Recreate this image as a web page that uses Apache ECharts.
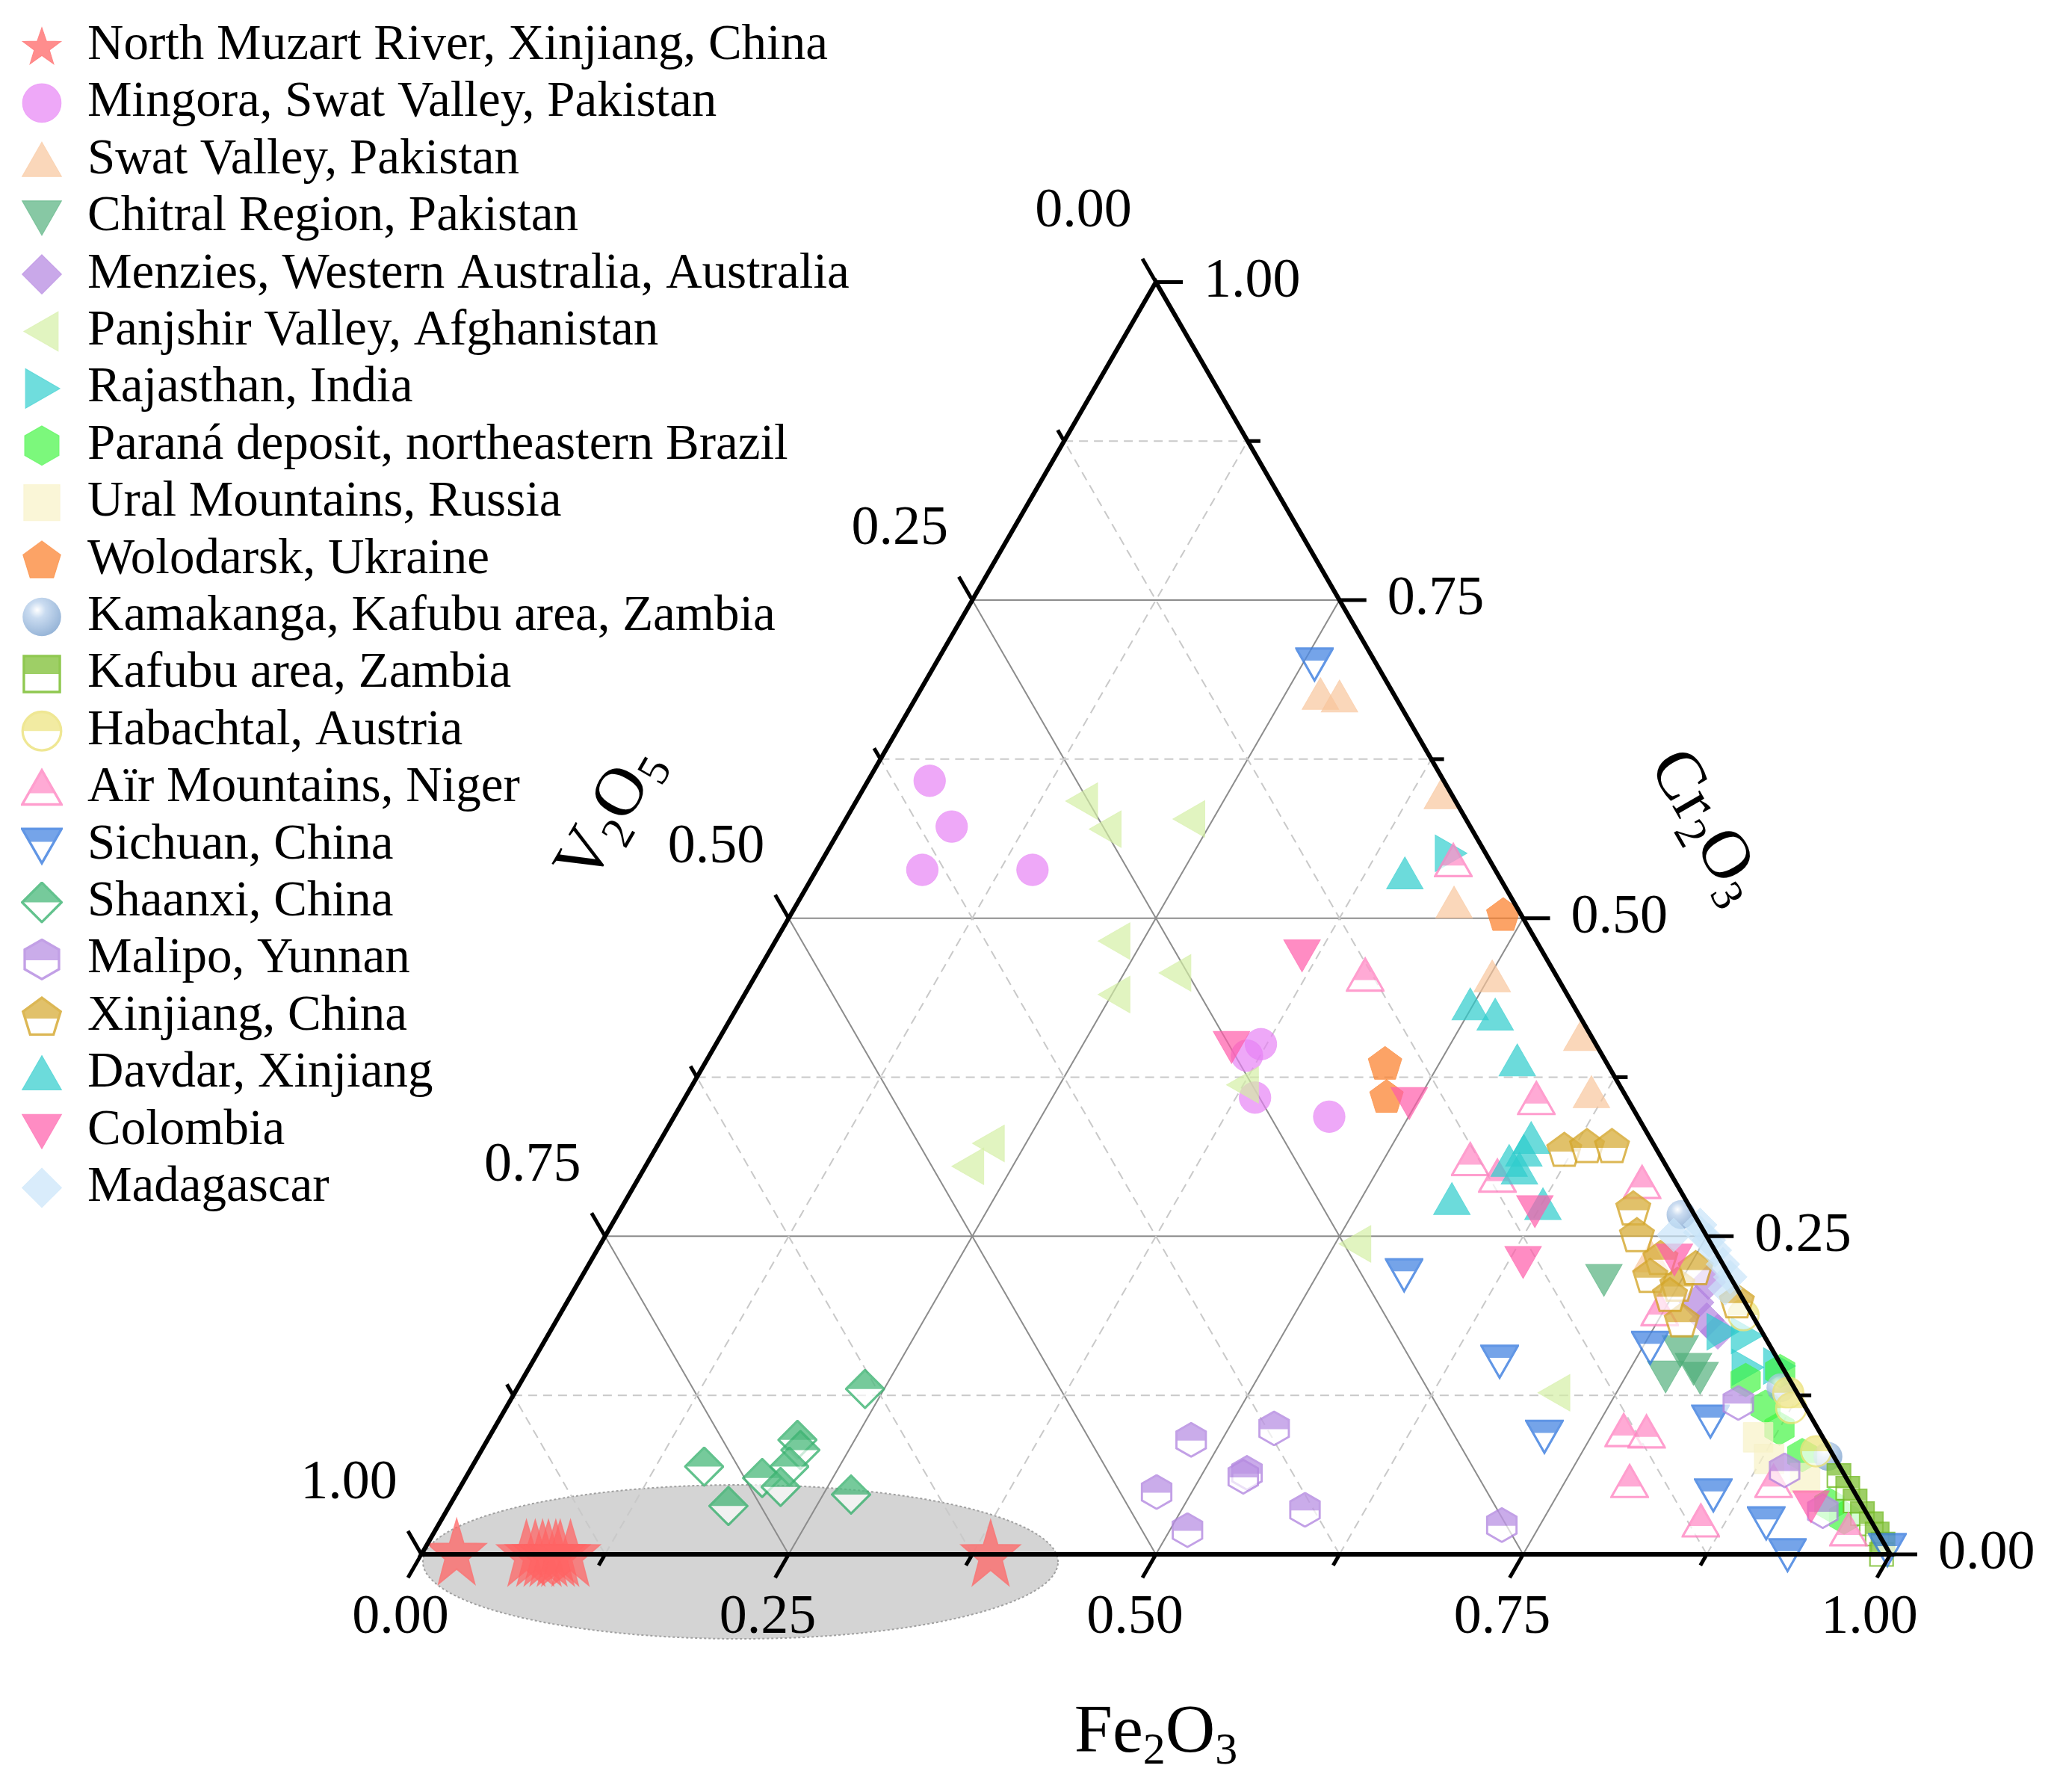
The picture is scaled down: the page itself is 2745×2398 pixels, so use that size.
<!DOCTYPE html>
<html>
<head>
<meta charset="utf-8">
<script src="https://cdn.jsdelivr.net/npm/echarts@6/dist/echarts.min.js"></script>
<style>html,body{margin:0;padding:0;background:#fff;}#chart{width:2745px;height:2398px;}</style>
</head>
<body>
<div id="chart"></div>
<script>
// ---- Data: each point is [Fe2O3, V2O5, Cr2O3] (fractions) ----
const seriesNames = [
  'North Muzart River, Xinjiang, China','Mingora, Swat Valley, Pakistan','Swat Valley, Pakistan',
  'Chitral Region, Pakistan','Menzies, Western Australia, Australia','Panjshir Valley, Afghanistan',
  'Rajasthan, India','Paraná deposit, northeastern Brazil','Ural Mountains, Russia','Wolodarsk, Ukraine',
  'Kamakanga, Kafubu area, Zambia','Kafubu area, Zambia','Habachtal, Austria','Aïr Mountains, Niger',
  'Sichuan, China','Shaanxi, China','Malipo, Yunnan','Xinjiang, China','Davdar, Xinjiang','Colombia','Madagascar'
];
const northMuzart = [[0.023,0.975,0.002],[0.071,0.928,0.001],[0.077,0.922,0.001],[0.082,0.917,0.001],[0.086,0.913,0.001],[0.091,0.908,0.001],[0.094,0.905,0.001],[0.101,0.898,0.001],[0.387,0.612,0.001]];
const mingora = [[0.042,0.350,0.608],[0.075,0.353,0.572],[0.072,0.390,0.538],[0.147,0.315,0.538],[0.371,0.228,0.401],[0.366,0.242,0.392],[0.388,0.253,0.359],[0.446,0.210,0.344]];
const swatValley = [[0.274,0.050,0.676],[0.288,0.038,0.674],[0.396,0.006,0.598],[0.447,0.041,0.512],[0.502,0.044,0.454],[0.586,0.006,0.408],[0.615,0.022,0.363],[0.720,0.046,0.234]];
const chitral = [[0.697,0.087,0.216],[0.777,0.083,0.140],[0.777,0.063,0.160],[0.793,0.061,0.146],[0.801,0.060,0.139]];
const menzies = [[0.769,0.017,0.214],[0.769,0.033,0.198],[0.783,0.033,0.184],[0.795,0.030,0.175]];
const panjshir = [[0.154,0.254,0.592],[0.181,0.249,0.570],[0.234,0.188,0.578],[0.231,0.287,0.482],[0.285,0.258,0.457],[0.252,0.308,0.440],[0.225,0.452,0.323],[0.220,0.475,0.305],[0.375,0.256,0.369],[0.514,0.242,0.244],[0.708,0.165,0.127]];
const rajasthan = [[0.425,0.024,0.551],[0.798,0.027,0.175],[0.816,0.012,0.172],[0.829,0.024,0.147],[0.850,0.002,0.148]];
const parana = [[0.833,0.030,0.137],[0.853,0.003,0.144],[0.875,0.026,0.099],[0.901,0.021,0.078],[0.939,0.022,0.039],[0.954,0.017,0.029],[0.857,0.027,0.116]];
const ural = [[0.864,0.044,0.092],[0.880,0.045,0.075],[0.912,0.028,0.060]];
const wolodarsk = [[0.485,0.012,0.503],[0.463,0.151,0.386],[0.477,0.163,0.360]];
const kamakanga = [[0.724,0.009,0.267],[0.860,0.009,0.131],[0.919,0.004,0.077]];
const kafubu = [[0.934,0.004,0.062],[0.945,0.003,0.052],[0.955,0.003,0.042],[0.965,0.003,0.032],[0.975,0.001,0.024],[0.983,0.001,0.016],[0.991,0.001,0.008],[0.994,0.006,0.000]];
const habachtal = [[0.806,0.006,0.188],[0.867,0.006,0.127],[0.875,0.010,0.115],[0.909,0.010,0.081]];
const airMountains = [[0.430,0.025,0.545],[0.415,0.130,0.455],[0.580,0.062,0.358],[0.559,0.131,0.310],[0.584,0.119,0.297],[0.685,0.023,0.292],[0.747,0.061,0.192],[0.770,0.133,0.097],[0.786,0.118,0.096],[0.794,0.149,0.057],[0.858,0.116,0.026],[0.892,0.051,0.057],[0.962,0.019,0.019]];
const sichuan = [[0.258,0.042,0.700],[0.559,0.221,0.220],[0.658,0.190,0.152],[0.718,0.189,0.093],[0.755,0.082,0.163],[0.825,0.070,0.105],[0.856,0.097,0.047],[0.903,0.072,0.025],[0.930,0.070,0.000],[0.996,0.000,0.004]];
const shaanxi = [[0.237,0.633,0.130],[0.211,0.699,0.090],[0.217,0.701,0.082],[0.158,0.773,0.069],[0.202,0.738,0.060],[0.216,0.715,0.069],[0.218,0.729,0.053],[0.190,0.772,0.038],[0.269,0.684,0.047]];
const malipo = [[0.479,0.431,0.090],[0.531,0.370,0.099],[0.476,0.475,0.049],[0.530,0.406,0.064],[0.529,0.410,0.061],[0.584,0.381,0.035],[0.512,0.469,0.019],[0.724,0.253,0.023],[0.837,0.044,0.119],[0.895,0.039,0.066],[0.937,0.029,0.034]];
const xinjiang = [[0.619,0.063,0.318],[0.633,0.046,0.321],[0.650,0.029,0.321],[0.689,0.039,0.272],[0.702,0.047,0.251],[0.727,0.040,0.233],[0.727,0.054,0.219],[0.749,0.039,0.212],[0.755,0.020,0.225],[0.766,0.050,0.184],[0.796,0.005,0.199],[0.748,0.048,0.204]];
const davdar = [[0.402,0.063,0.535],[0.498,0.070,0.432],[0.519,0.057,0.424],[0.552,0.060,0.388],[0.592,0.081,0.327],[0.586,0.105,0.309],[0.596,0.101,0.303],[0.592,0.091,0.317],[0.562,0.159,0.279],[0.626,0.099,0.275]];
const colombia = [[0.364,0.165,0.471],[0.352,0.249,0.399],[0.495,0.150,0.355],[0.623,0.107,0.270],[0.635,0.135,0.230],[0.737,0.031,0.232],[0.927,0.035,0.038]];
const madagascar = [[0.727,0.022,0.251],[0.744,0.003,0.253],[0.741,0.000,0.259],[0.753,0.000,0.247],[0.761,0.000,0.239],[0.772,0.000,0.228],[0.782,0.000,0.218],[0.783,0.008,0.209]];

// ---- Axis ticks ----
const majorTicks = [0, 0.25, 0.5, 0.75, 1];
const minorTicks = [0.125, 0.375, 0.625, 0.875];
const feTickLabels = ['0.00','0.25','0.50','0.75','1.00'];
const vTickLabels  = ['0.00','0.25','0.50','0.75','1.00'];
const crTickLabels = ['0.00','0.25','0.50','0.75','1.00'];

// ---- Geometry helpers ----
const H = Math.sqrt(3) / 2;
function toXY(p) { const s = p[0] + p[1] + p[2]; const fe = p[0] / s, cr = p[2] / s; return [fe + cr / 2, cr * H]; }
const FONT = '"Liberation Serif", "Times New Roman", serif';

// ---- Symbols (SVG images) ----
function starGeo() {
  const pts = [];
  for (let i = 0; i < 10; i++) {
    const r = i % 2 ? 19 : 48, a = -Math.PI / 2 + i * Math.PI / 5;
    pts.push((50 + r * Math.cos(a)).toFixed(2) + ',' + (54 + r * Math.sin(a)).toFixed(2));
  }
  return 'polygon points="' + pts.join(' ') + '"';
}
const GEO = {
  star: starGeo(),
  circle: 'circle cx="50" cy="50" r="46"',
  triUp: 'polygon points="50,7 97,89 3,89"',
  triDown: 'polygon points="3,11 97,11 50,93"',
  triLeft: 'polygon points="7,50 89,3 89,97"',
  triRight: 'polygon points="93,50 11,3 11,97"',
  diamond: 'polygon points="50,3 97,50 50,97 3,50"',
  hexagon: 'polygon points="50,3 91,26.5 91,73.5 50,97 9,73.5 9,26.5"',
  pentagon: 'polygon points="50,5 95,38 78,93 22,93 5,38"',
  square: 'polygon points="7,7 93,7 93,93 7,93"'
};
function svgURI(body) {
  const svg = '<svg xmlns="http://www.w3.org/2000/svg" width="100" height="100" viewBox="0 0 100 100">' + body + '</svg>';
  return 'image://data:image/svg+xml;charset=utf-8,' + encodeURIComponent(svg);
}
function solidSym(geo, color, op) {
  return svgURI('<' + geo + ' fill="' + color + '" fill-opacity="' + op + '" stroke="' + color + '" stroke-opacity="' + op + '" stroke-width="2"/>');
}
function halfSym(geo, color, split) {
  return svgURI('<defs><clipPath id="h"><rect x="0" y="0" width="100" height="' + split + '"/></clipPath></defs>' +
    '<' + geo + ' fill="#ffffff" fill-opacity="0.85"/>' +
    '<g clip-path="url(#h)"><' + geo + ' fill="' + color + '" fill-opacity="0.88"/></g>' +
    '<' + geo + ' fill="none" stroke="' + color + '" stroke-width="6"/>');
}
function sphereSym() {
  return svgURI('<defs><radialGradient id="g" cx="0.38" cy="0.32" r="0.72"><stop offset="0" stop-color="#ffffff"/>' +
    '<stop offset="0.3" stop-color="#b4cdea"/><stop offset="1" stop-color="#6b95c6"/></radialGradient></defs>' +
    '<circle cx="50" cy="50" r="46" fill="url(#g)" fill-opacity="0.9"/>');
}

const seriesDefs = [
  [northMuzart, solidSym(GEO.star, '#ff6464', 0.92), [86, 100]],
  [mingora, solidSym(GEO.circle, '#e680f4', 0.85), 46],
  [swatValley, solidSym(GEO.triUp, '#f8c49a', 0.85), 52],
  [chitral, solidSym(GEO.triDown, '#4fae79', 0.85), 52],
  [menzies, solidSym(GEO.diamond, '#b07fdf', 0.85), 50],
  [panjshir, solidSym(GEO.triLeft, '#d3efa3', 0.85), 52],
  [rajasthan, solidSym(GEO.triRight, '#2ccccc', 0.85), 52],
  [parana, solidSym(GEO.hexagon, '#3ff53f', 0.85), 48],
  [ural, solidSym(GEO.square, '#f7f2c8', 0.9), 46],
  [wolodarsk, solidSym(GEO.pentagon, '#fb7f2b', 0.9), 50],
  [kamakanga, sphereSym(), 42],
  [kafubu, halfSym(GEO.square, '#74bb25', 50), 36],
  [habachtal, halfSym(GEO.circle, '#ece27a', 50), 44],
  [airMountains, halfSym(GEO.triUp, '#ff86c3', 62), 52],
  [sichuan, halfSym(GEO.triDown, '#3a7ddf', 42), 52],
  [shaanxi, halfSym(GEO.diamond, '#3cb371', 50), 54],
  [malipo, halfSym(GEO.hexagon, '#b489e0', 52), 48],
  [xinjiang, halfSym(GEO.pentagon, '#d4a62a', 55), 50],
  [davdar, solidSym(GEO.triUp, '#2fcdcd', 0.88), 52],
  [colombia, solidSym(GEO.triDown, '#ff5caa', 0.88), 52],
  [madagascar, solidSym(GEO.diamond, '#c9e5f9', 0.88), 48]
];

// annotation ellipse (cartesian units of the triangle frame)
const ellipseAnno = { cx: 0.2172, cy: -0.0051, rx: 0.2162, ry: 0.0524 };

// ---- text measuring for subscripted titles ----
const mctx = document.createElement('canvas').getContext('2d');
function titleGroup(parts, x, y, rot) {
  const big = 92, small = 60;
  let total = 0;
  const ws = parts.map(p => { mctx.font = (p[1] ? small : big) + 'px ' + FONT; const w = mctx.measureText(p[0]).width; total += w; return w; });
  let cx = -total / 2;
  const children = parts.map((p, i) => {
    const el = { type: 'text', x: cx, y: p[1] ? 24 : 0,
      style: { text: p[0], fontSize: p[1] ? small : big, fontFamily: FONT, fill: '#000', align: 'left', verticalAlign: 'middle' } };
    cx += ws[i];
    return el;
  });
  return { type: 'group', x: x, y: y, rotation: rot, children: children };
}

function gridRender(params, api) {
  const P = p => api.coord(toXY(p));
  const ch = [];
  const levels = majorTicks.slice(1, 4).concat(minorTicks);
  levels.forEach(l => {
    const major = majorTicks.indexOf(l) >= 0;
    const style = major ? { stroke: '#8c8c8c', lineWidth: 2 } : { stroke: '#c9c9c9', lineWidth: 2, lineDash: [12, 8] };
    const segs = [
      [P([0, 1 - l, l]), P([1 - l, 0, l])],
      [P([l, 1 - l, 0]), P([l, 0, 1 - l])],
      [P([1 - l, l, 0]), P([0, l, 1 - l])]
    ];
    segs.forEach(s => ch.push({ type: 'line', shape: { x1: s[0][0], y1: s[0][1], x2: s[1][0], y2: s[1][1] }, style: style }));
  });
  return { type: 'group', children: ch };
}

function ellipseRender(params, api) {
  const pts = [];
  for (let i = 0; i < 160; i++) {
    const a = i / 160 * 2 * Math.PI;
    pts.push(api.coord([ellipseAnno.cx + ellipseAnno.rx * Math.cos(a), ellipseAnno.cy + ellipseAnno.ry * Math.sin(a)]));
  }
  return { type: 'polygon', shape: { points: pts }, style: { fill: '#d4d4d4', stroke: '#a0a0a0', lineWidth: 2, lineDash: [3, 3] } };
}

function frameRender(params, api) {
  const P = p => api.coord(toXY(p));
  const ch = [];
  const A = P([0, 1, 0]), B = P([1, 0, 0]), C = P([0, 0, 1]);
  ch.push({ type: 'polygon', shape: { points: [A, B, C] }, style: { fill: 'none', stroke: '#000', lineWidth: 6, lineJoin: 'miter' } });
  const axes = [
    { pt: t => P([t, 1 - t, 0]), dir: [-0.5, H], labels: feTickLabels, lab: (p) => ({ x: p[0] - 28, y: p[1] + 86, align: 'center' }) },
    { pt: t => P([1 - t, 0, t]), dir: [1, 0], labels: crTickLabels, lab: (p) => ({ x: p[0] + 64, y: p[1], align: 'left' }) },
    { pt: t => P([0, t, 1 - t]), dir: [-0.5, -H], labels: vTickLabels, lab: (p) => ({ x: p[0] - 97, y: p[1] - 94, align: 'center' }) }
  ];
  axes.forEach(ax => {
    majorTicks.forEach((t, i) => {
      const p = ax.pt(t);
      ch.push({ type: 'line', shape: { x1: p[0], y1: p[1], x2: p[0] + ax.dir[0] * 36, y2: p[1] + ax.dir[1] * 36 }, style: { stroke: '#000', lineWidth: 5 } });
      const L = ax.lab(p);
      ch.push({ type: 'text', x: L.x, y: L.y, style: { text: ax.labels[i], fontSize: 74, fontFamily: FONT, fill: '#000', align: L.align, verticalAlign: 'middle' } });
    });
    minorTicks.forEach(t => {
      const p = ax.pt(t);
      ch.push({ type: 'line', shape: { x1: p[0], y1: p[1], x2: p[0] + ax.dir[0] * 17, y2: p[1] + ax.dir[1] * 17 }, style: { stroke: '#000', lineWidth: 5 } });
    });
  });
  // axis titles
  const mb = P([0.5, 0.5, 0]);
  ch.push(titleGroup([['Fe', 0], ['2', 1], ['O', 0], ['3', 1]], mb[0], mb[1] + 240, 0));
  const ml = P([0, 0.5, 0.5]);
  ch.push(titleGroup([['V', 0], ['2', 1], ['O', 0], ['5', 1]], ml[0] - 275 * H, ml[1] - 275 * 0.5, Math.PI / 3));
  const mr = P([0.5, 0, 0.5]);
  ch.push(titleGroup([['Cr', 0], ['2', 1], ['O', 0], ['3', 1]], mr[0] + 272 * H + 8, mr[1] - 272 * 0.5 + 14, -Math.PI / 3));
  return { type: 'group', children: ch };
}

const series = [
  { type: 'custom', coordinateSystem: 'cartesian2d', data: [[0, 0]], renderItem: ellipseRender, z: 1, silent: true, clip: false },
  { type: 'custom', coordinateSystem: 'cartesian2d', data: [[0, 0]], renderItem: gridRender, z: 2, silent: true, clip: false }
];
seriesDefs.forEach((d, i) => {
  series.push({
    type: 'scatter', name: seriesNames[i], data: d[0].map(toXY), symbol: d[1], symbolSize: d[2],
    symbolKeepAspect: false, z: 3, clip: false, silent: true
  });
});
series.push({ type: 'custom', coordinateSystem: 'cartesian2d', data: [[0, 0]], renderItem: frameRender, z: 10, silent: true, clip: false });

const chart = echarts.init(document.getElementById('chart'), null, { renderer: 'canvas' });
chart.setOption({
  animation: false,
  backgroundColor: '#ffffff',
  grid: { left: 564, top: 2080 - 1966 * H, width: 1966, height: 1966 * H, containLabel: false },
  xAxis: { type: 'value', min: 0, max: 1, show: false },
  yAxis: { type: 'value', min: 0, max: H, show: false },
  legend: {
    data: seriesNames, orient: 'vertical', left: 0, top: 28, padding: 0,
    itemWidth: 112, itemHeight: 56, itemGap: 9.4, symbolKeepAspect: true, selectedMode: false,
    textStyle: { fontFamily: FONT, fontSize: 67, color: '#000', lineHeight: 56 }
  },
  series: series
});
</script>
</body>
</html>
